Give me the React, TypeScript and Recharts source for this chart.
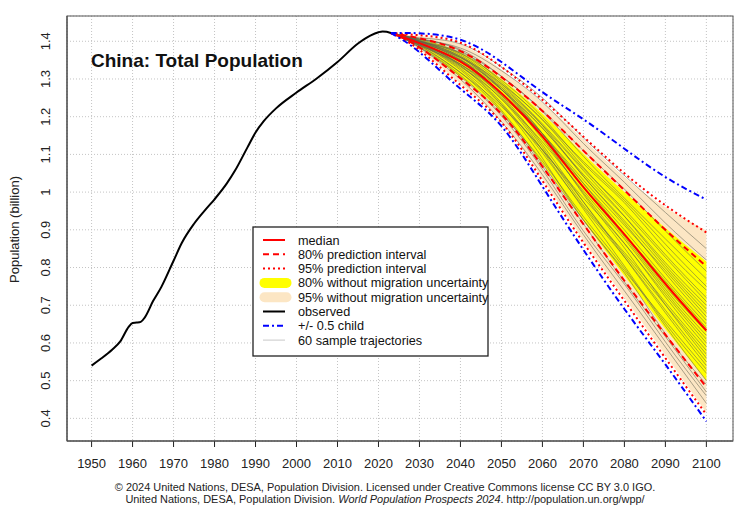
import { ComposedChart, Line, Area, XAxis, YAxis, CartesianGrid } from 'recharts';

const FONT = '"Liberation Sans", Arial, Helvetica, sans-serif';

// observed population (billion)
const obsYears = [1950, 1952, 1955, 1957, 1959, 1960, 1961, 1962, 1963, 1965, 1967, 1970, 1972, 1975, 1978, 1980, 1983, 1985, 1988, 1990, 1992, 1995, 2000, 2005, 2010, 2015, 2018, 2020, 2021, 2022, 2023];
const obsPop = [0.54, 0.556, 0.582, 0.604, 0.642, 0.653, 0.654, 0.656, 0.668, 0.711, 0.748, 0.818, 0.865, 0.916, 0.956, 0.981, 1.023, 1.057, 1.118, 1.158, 1.188, 1.222, 1.264, 1.302, 1.345, 1.394, 1.415, 1.424, 1.426, 1.425, 1.422];

// projections
const projYears = [2023, 2030, 2040, 2050, 2060, 2070, 2080, 2090, 2100];
const median = [1.422, 1.395, 1.346, 1.262, 1.148, 1.013, 0.888, 0.757, 0.633];
const pi80Lo = [1.422, 1.384, 1.302, 1.207, 1.068, 0.915, 0.765, 0.622, 0.483];
const pi80Hi = [1.422, 1.408, 1.374, 1.305, 1.215, 1.11, 1.005, 0.9, 0.803];
const pi95Lo = [1.422, 1.377, 1.284, 1.185, 1.03, 0.866, 0.712, 0.56, 0.41];
const pi95Hi = [1.422, 1.416, 1.396, 1.332, 1.245, 1.147, 1.05, 0.965, 0.893];
const childLo = [1.422, 1.371, 1.274, 1.175, 1.015, 0.847, 0.69, 0.543, 0.392];
const childHi = [1.422, 1.421, 1.404, 1.345, 1.265, 1.193, 1.115, 1.04, 0.98];
const noMig80Lo = [1.422, 1.386, 1.305, 1.212, 1.075, 0.925, 0.778, 0.637, 0.5];
const noMig80Hi = [1.422, 1.406, 1.37, 1.3, 1.208, 1.102, 1.0, 0.905, 0.816];
const noMig95Lo = [1.422, 1.379, 1.288, 1.19, 1.036, 0.872, 0.72, 0.568, 0.415];
const noMig95Hi = [1.422, 1.414, 1.392, 1.325, 1.238, 1.14, 1.04, 0.96, 0.898];

// sample trajectories (2030..2100, all start at the 2023 value)
const trajectories = [
  [1.389, 1.317, 1.212, 1.068, 0.916, 0.762, 0.617, 0.47],
  [1.397, 1.335, 1.232, 1.09, 0.926, 0.786, 0.624, 0.49],
  [1.385, 1.31, 1.207, 1.082, 0.935, 0.798, 0.645, 0.5],
  [1.395, 1.332, 1.247, 1.111, 0.955, 0.804, 0.652, 0.52],
  [1.391, 1.324, 1.217, 1.075, 0.926, 0.792, 0.659, 0.53],
  [1.401, 1.353, 1.257, 1.126, 0.974, 0.828, 0.68, 0.54],
  [1.389, 1.335, 1.237, 1.104, 0.96, 0.828, 0.687, 0.55],
  [1.399, 1.36, 1.272, 1.148, 0.994, 0.852, 0.701, 0.56],
  [1.393, 1.328, 1.232, 1.112, 0.974, 0.834, 0.701, 0.57],
  [1.396, 1.346, 1.252, 1.119, 0.965, 0.84, 0.708, 0.58],
  [1.388, 1.317, 1.227, 1.112, 0.984, 0.864, 0.722, 0.59],
  [1.4, 1.35, 1.262, 1.141, 0.998, 0.864, 0.729, 0.6],
  [1.394, 1.339, 1.247, 1.133, 1.003, 0.876, 0.736, 0.61],
  [1.397, 1.357, 1.272, 1.155, 1.013, 0.882, 0.743, 0.62],
  [1.39, 1.339, 1.262, 1.155, 1.023, 0.888, 0.75, 0.63],
  [1.402, 1.36, 1.277, 1.155, 1.013, 0.888, 0.764, 0.64],
  [1.395, 1.339, 1.257, 1.148, 1.023, 0.9, 0.771, 0.65],
  [1.391, 1.346, 1.272, 1.17, 1.042, 0.918, 0.785, 0.66],
  [1.399, 1.35, 1.262, 1.155, 1.032, 0.912, 0.792, 0.67],
  [1.405, 1.368, 1.287, 1.177, 1.042, 0.924, 0.799, 0.68],
  [1.393, 1.35, 1.277, 1.177, 1.057, 0.936, 0.806, 0.69],
  [1.401, 1.357, 1.272, 1.17, 1.047, 0.936, 0.813, 0.7],
  [1.396, 1.357, 1.287, 1.192, 1.066, 0.948, 0.827, 0.71],
  [1.403, 1.364, 1.282, 1.181, 1.062, 0.954, 0.834, 0.72],
  [1.399, 1.368, 1.297, 1.199, 1.076, 0.972, 0.848, 0.74],
  [1.406, 1.375, 1.292, 1.192, 1.081, 0.978, 0.862, 0.75],
  [1.4, 1.371, 1.307, 1.214, 1.095, 0.984, 0.876, 0.77],
  [1.407, 1.378, 1.307, 1.217, 1.11, 1.008, 0.897, 0.79],
  [1.405, 1.382, 1.322, 1.239, 1.129, 1.026, 0.918, 0.82],
  [1.409, 1.393, 1.332, 1.25, 1.144, 1.044, 0.946, 0.85],
  [1.383, 1.299, 1.187, 1.046, 0.887, 0.738, 0.589, 0.44],
  [1.384, 1.306, 1.202, 1.06, 0.897, 0.756, 0.603, 0.46],
];

const xTicks = [1950, 1960, 1970, 1980, 1990, 2000, 2010, 2020, 2030, 2040, 2050, 2060, 2070, 2080, 2090, 2100];
const yTicks = [0.4, 0.5, 0.6, 0.7, 0.8, 0.9, 1.0, 1.1, 1.2, 1.3, 1.4];

const obsRows = obsYears.map((year, i) => ({ year, observed: obsPop[i] }));

const projRows = projYears.map((year, i) => {
  const row: any = {
    year,
    median: median[i],
    pi80Lo: pi80Lo[i],
    pi80Hi: pi80Hi[i],
    pi95Lo: pi95Lo[i],
    pi95Hi: pi95Hi[i],
    childLo: childLo[i],
    childHi: childHi[i],
    band80: [noMig80Lo[i], noMig80Hi[i]],
    band95: [noMig95Lo[i], noMig95Hi[i]],
  };
  trajectories.forEach((t, k) => {
    row['t' + k] = i === 0 ? median[0] : t[i - 1];
  });
  return row;
});

const fmtY = (v: number) => String(Number(v.toFixed(1)));

const YTick = (props: any) => {
  const { x, y, payload } = props;
  return (
    <text x={x} y={y} transform={`rotate(-90 ${x} ${y})`} textAnchor="middle" fontSize={13} fill="#222" fontFamily={FONT}>
      {fmtY(payload.value)}
    </text>
  );
};

const legendRows = [
  { label: 'median', kind: 'line', color: '#ff0000', dash: undefined, width: 2 },
  { label: '80% prediction interval', kind: 'line', color: '#ff0000', dash: '6 4', width: 2 },
  { label: '95% prediction interval', kind: 'line', color: '#ff0000', dash: '2 3', width: 2 },
  { label: '80% without migration uncertainty', kind: 'band', color: '#ffff00' },
  { label: '95% without migration uncertainty', kind: 'band', color: '#fce6c4' },
  { label: 'observed', kind: 'line', color: '#000000', dash: undefined, width: 2 },
  { label: '+/- 0.5 child', kind: 'line', color: '#0000ff', dash: '6 3 2 3', width: 2 },
  { label: '60 sample trajectories', kind: 'line', color: '#c8c8c8', dash: undefined, width: 1 },
];

const Overlay = () => (
  <svg width={737} height={507} style={{ position: 'absolute', left: 0, top: 0, pointerEvents: 'none', overflow: 'visible' }} fontFamily={FONT}>
    <rect x={67} y={16} width={666} height={425} fill="none" stroke="#555" strokeWidth={1} />
    <text x={91} y={66.5} fontSize={19} fontWeight="bold" fill="#111">China: Total Population</text>
    <text x={19} y={229.5} transform="rotate(-90 19 229.5)" textAnchor="middle" fontSize={13} fill="#222">Population (billion)</text>
    <g transform="translate(253,227)">
      <rect x={0} y={0} width={235} height={129} fill="#fff" stroke="#222" strokeWidth={1.3} />
      {legendRows.map((r, i) => {
        const cy = 13 + i * 14.3;
        return (
          <g key={r.label}>
            {r.kind === 'band' ? (
              <line x1={11.5} x2={33.5} y1={cy} y2={cy} stroke={r.color} strokeWidth={10} strokeLinecap="round" />
            ) : (
              <line x1={10} x2={32} y1={cy} y2={cy} stroke={r.color} strokeWidth={r.width} strokeDasharray={r.dash} />
            )}
            <text x={45} y={cy + 4.5} fontSize={12.7} fill="#111">{r.label}</text>
          </g>
        );
      })}
    </g>
    <text x={385} y={491} textAnchor="middle" fontSize={10.95} fill="#222">
      © 2024 United Nations, DESA, Population Division. Licensed under Creative Commons license CC BY 3.0 IGO.
    </text>
    <text x={385} y={502.5} textAnchor="middle" fontSize={10.95} fill="#222">
      United Nations, DESA, Population Division. <tspan fontStyle="italic">World Population Prospects 2024</tspan>. http://population.un.org/wpp/
    </text>
  </svg>
);

export default function App() {
  return (
    <div style={{ position: 'absolute', left: 0, top: 0, width: 737, height: 507, background: '#fff', fontFamily: FONT }}>
      <ComposedChart width={737} height={507} data={projRows} margin={{ top: 16, right: 4, left: 0, bottom: 36 }}>
        <CartesianGrid stroke="#c4c4c4" strokeDasharray="1 2" />
        <XAxis
          dataKey="year"
          type="number"
          domain={[1944, 2106.5]}
          allowDataOverflow
          ticks={xTicks}
          interval={0}
          height={30}
          tickSize={6}
          tickMargin={12}
          stroke="#222"
          tick={{ fill: '#222', fontSize: 13, fontFamily: FONT }}
        />
        <YAxis
          type="number"
          domain={[0.34, 1.467]}
          allowDataOverflow
          ticks={yTicks}
          interval={0}
          width={67}
          tickSize={6}
          tickMargin={11}
          tickLine={false}
          stroke="#222"
          tick={<YTick />}
        />
        <Area dataKey="band95" type="natural" fill="#fce6c4" fillOpacity={1} stroke="none" isAnimationActive={false} />
        <Area dataKey="band80" type="natural" fill="#ffff00" fillOpacity={1} stroke="none" isAnimationActive={false} />
        {trajectories.map((_t, k) => (
          <Line
            key={'t' + k}
            dataKey={'t' + k}
            type="natural"
            stroke="#5e5e4e"
            strokeOpacity={0.6}
            strokeWidth={0.9}
            dot={false}
            isAnimationActive={false}
          />
        ))}
        <Line dataKey="pi95Hi" type="natural" stroke="#ff0000" strokeWidth={2} strokeDasharray="2 3" dot={false} isAnimationActive={false} />
        <Line dataKey="pi95Lo" type="natural" stroke="#ff0000" strokeWidth={2} strokeDasharray="2 3" dot={false} isAnimationActive={false} />
        <Line dataKey="pi80Hi" type="natural" stroke="#ff0000" strokeWidth={2} strokeDasharray="6 4" dot={false} isAnimationActive={false} />
        <Line dataKey="pi80Lo" type="natural" stroke="#ff0000" strokeWidth={2} strokeDasharray="6 4" dot={false} isAnimationActive={false} />
        <Line dataKey="median" type="natural" stroke="#ff0000" strokeWidth={2} dot={false} isAnimationActive={false} />
        <Line dataKey="childHi" type="natural" stroke="#0000ff" strokeWidth={2} strokeDasharray="6 3 2 3" dot={false} isAnimationActive={false} />
        <Line dataKey="childLo" type="natural" stroke="#0000ff" strokeWidth={2} strokeDasharray="6 3 2 3" dot={false} isAnimationActive={false} />
        <Line data={obsRows} dataKey="observed" type="monotone" stroke="#000" strokeWidth={2} dot={false} isAnimationActive={false} />
      </ComposedChart>
      <Overlay />
    </div>
  );
}
